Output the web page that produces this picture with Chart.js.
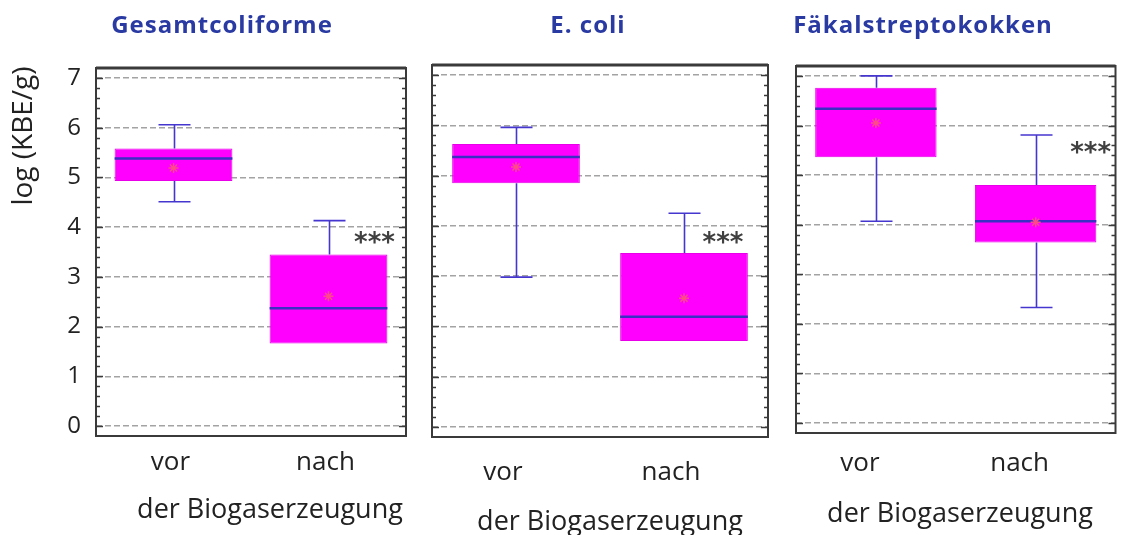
<!DOCTYPE html>
<html>
<head>
<meta charset="utf-8">
<script src="https://cdn.jsdelivr.net/npm/chart.js@4.4.1/dist/chart.umd.min.js"></script>
<style>
  html, body { margin: 0; padding: 0; background: #ffffff; width: 1122px; height: 535px; overflow: hidden; }
  .panel { position: absolute; top: 0; height: 535px; }
</style>
</head>
<body>
<div class="panel" style="left:0px;width:420px"><canvas id="c1"></canvas></div>
<div class="panel" style="left:416px;width:368px"><canvas id="c2"></canvas></div>
<div class="panel" style="left:784px;width:338px"><canvas id="c3"></canvas></div>
<script>
// ---- labels ----
const categories = ['vor', 'nach'];
const yTickValues = [0, 1, 2, 3, 4, 5, 6, 7];
const panelTitles = ['Gesamtcoliforme', 'E. coli', 'Fäkalstreptokokken'];
const xCaption = 'der Biogaserzeugung';
const yAxisTitle = 'log (KBE/g)';
const significance = '***';

// ---- log10 KBE/g, per group [vor, nach] ----
const gesamtMin    = [4.51, 1.66];
const gesamtQ1     = [4.93, 1.66];
const gesamtMedian = [5.38, 2.37];
const gesamtQ3     = [5.58, 3.45];
const gesamtMax    = [6.06, 4.13];
const gesamtMean   = [5.19, 2.61];

const ecoliMin    = [2.98, 1.71];
const ecoliQ1     = [4.85, 1.71];
const ecoliMedian = [5.37, 2.19];
const ecoliQ3     = [5.63, 3.46];
const ecoliMax    = [5.96, 4.25];
const ecoliMean   = [5.17, 2.56];

const faekalMin    = [4.07, 2.33];
const faekalQ1     = [5.36, 3.64];
const faekalMedian = [6.34, 4.07];
const faekalQ3     = [6.76, 4.80];
const faekalMax    = [7.00, 5.81];
const faekalMean   = [6.05, 4.05];

// height (log KBE/g) at which the significance mark sits next to "nach"
const sigLevel = [3.75, 3.74, 5.53];

const series = [
  { min: gesamtMin, q1: gesamtQ1, median: gesamtMedian, q3: gesamtQ3, max: gesamtMax, mean: gesamtMean },
  { min: ecoliMin,  q1: ecoliQ1,  median: ecoliMedian,  q3: ecoliQ3,  max: ecoliMax,  mean: ecoliMean },
  { min: faekalMin, q1: faekalQ1, median: faekalMedian, q3: faekalQ3, max: faekalMax, mean: faekalMean }
];

// ---- page layout of the three panels (page pixels) ----
const layout = [
  { id: 'c1', left: 0,   width: 420, areaLeft: 96,  areaRight: 406,  areaTop: 68, areaBottom: 436,
    showY: true,  titleX: 222, labelOffset: -3,  tickPad: 11, capX: 270, capY: 518, sigDx: 46 },
  { id: 'c2', left: 416, width: 368, areaLeft: 432, areaRight: 768,  areaTop: 65, areaBottom: 437,
    showY: false, titleX: 588, labelOffset: -13, tickPad: 20, capX: 610, capY: 530, sigDx: 39 },
  { id: 'c3', left: 784, width: 338, areaLeft: 796, areaRight: 1120, areaTop: 66, areaBottom: 433,
    showY: false, titleX: 923, labelOffset: -16, tickPad: 15, capX: 960, capY: 522, sigDx: 55 }
];

const FONT = "'Open Sans', 'DejaVu Sans', sans-serif";
const Y_MIN = -0.2, Y_MAX = 7.2;
const WHISKER = '#4536cf';
const MEDIAN = '#3a2fc2';
const BOX = '#ff00ff';

function makePanel(p, s, k) {
  const decor = {
    id: 'decor',
    beforeDatasetsDraw(chart) {
      const { ctx, scales: { x, y } } = chart;
      ctx.save();
      ctx.strokeStyle = WHISKER;
      ctx.lineWidth = 1.6;
      categories.forEach((c, i) => {
        const cx = Math.round(x.getPixelForValue(i)) + 0.5;
        const capHalf = 16;
        const pairs = [[s.q3[i], s.max[i]], [s.q1[i], s.min[i]]];
        pairs.forEach(([from, to]) => {
          if (Math.abs(from - to) < 1e-6) return;
          const y0 = y.getPixelForValue(from), y1 = y.getPixelForValue(to);
          ctx.beginPath();
          ctx.moveTo(cx, y0); ctx.lineTo(cx, y1);
          ctx.moveTo(cx - capHalf, y1); ctx.lineTo(cx + capHalf, y1);
          ctx.stroke();
        });
      });
      ctx.restore();
    },
    afterDatasetDraw(chart, args) {
      if (args.index !== 1) return;
      const { ctx, scales: { y } } = chart;
      const bars = chart.getDatasetMeta(1).data;
      ctx.save();
      ctx.strokeStyle = MEDIAN;
      ctx.lineWidth = 2.5;
      bars.forEach((bar, i) => {
        const ym = y.getPixelForValue(s.median[i]);
        ctx.beginPath();
        ctx.moveTo(bar.x - bar.width / 2, ym);
        ctx.lineTo(bar.x + bar.width / 2, ym);
        ctx.stroke();
      });
      ctx.restore();
    },
    afterDraw(chart) {
      const { ctx, chartArea: a, scales: { x, y } } = chart;
      ctx.save();
      // frame
      ctx.strokeStyle = '#3a3a3a';
      ctx.lineWidth = 2;
      ctx.strokeRect(a.left, a.top, a.right - a.left, a.bottom - a.top);
      ctx.lineWidth = 3;
      ctx.beginPath();
      ctx.moveTo(a.left, a.top); ctx.lineTo(a.right, a.top);
      ctx.stroke();
      // inward minor ticks every 0.2 on both sides
      ctx.lineWidth = 1.5;
      for (let v = -0.2; v <= 7.2001; v += 0.2) {
        const r = Math.round(v * 10) / 10;
        const yy = Math.round(y.getPixelForValue(r)) + 0.5;
        if (yy <= a.top + 2 || yy >= a.bottom - 2) continue;
        const len = Math.abs(r - Math.round(r)) < 1e-6 ? 7 : 4;
        ctx.beginPath();
        ctx.moveTo(a.left, yy); ctx.lineTo(a.left + len, yy);
        ctx.moveTo(a.right, yy); ctx.lineTo(a.right - len, yy);
        ctx.stroke();
      }
      const off = p.left;
      // panel title
      ctx.fillStyle = '#2a3aa3';
      ctx.font = `bold 24px ${FONT}`;
      ctx.letterSpacing = '1px';
      ctx.textAlign = 'center';
      ctx.textBaseline = 'alphabetic';
      ctx.fillText(panelTitles[k], p.titleX - off, 33);
      ctx.letterSpacing = '0px';
      // caption under the group labels
      ctx.fillStyle = '#222222';
      ctx.font = `27px ${FONT}`;
      ctx.fillText(xCaption, p.capX - off, p.capY);
      // significance mark beside the second group
      ctx.fillStyle = '#404040';
      ctx.font = `bold 26px 'DejaVu Sans', sans-serif`;
      ctx.textBaseline = 'middle';
      ctx.fillText(significance, x.getPixelForValue(1) + p.sigDx, y.getPixelForValue(sigLevel[k]) + 5);
      // y axis title
      if (p.showY) {
        ctx.fillStyle = '#222222';
        ctx.font = `28px ${FONT}`;
        ctx.translate(24, 136);
        ctx.rotate(-Math.PI / 2);
        ctx.textAlign = 'center';
        ctx.textBaseline = 'middle';
        ctx.fillText(yAxisTitle, 0, 0);
      }
      ctx.restore();
    }
  };

  const boxes = categories.map((c, i) => [s.q1[i], s.q3[i]]);

  return new Chart(document.getElementById(p.id), {
    data: {
      labels: categories,
      datasets: [
        {
          type: 'line',
          data: s.mean,
          showLine: false,
          pointStyle: 'star',
          pointRadius: 5,
          pointBorderWidth: 1.5,
          pointBorderColor: '#ff4a8a',
          pointBackgroundColor: '#ff4a8a',
          order: 1
        },
        {
          type: 'bar',
          data: boxes,
          backgroundColor: BOX,
          borderColor: '#e800e8',
          borderWidth: 1,
          borderSkipped: false,
          barPercentage: 0.76,
          categoryPercentage: 1.0,
          order: 2
        }
      ]
    },
    options: {
      responsive: true,
      maintainAspectRatio: false,
      animation: false,
      events: [],
      layout: { padding: { top: p.areaTop, right: p.left + p.width - p.areaRight, left: 0, bottom: 0 } },
      plugins: { legend: { display: false }, tooltip: { enabled: false }, title: { display: false } },
      scales: {
        x: {
          type: 'category',
          offset: true,
          grid: { display: false, drawTicks: false },
          border: { display: false },
          ticks: {
            color: '#222222',
            font: { family: FONT, size: 26 },
            padding: p.tickPad,
            labelOffset: p.labelOffset,
            maxRotation: 0,
            autoSkip: false
          },
          afterFit: (sc) => { sc.height = 535 - p.areaBottom; }
        },
        y: {
          type: 'linear',
          min: Y_MIN,
          max: Y_MAX,
          afterBuildTicks: (sc) => { sc.ticks = yTickValues.map(v => ({ value: v })); },
          grid: { color: '#a3a3a3', lineWidth: 1.5, drawTicks: false },
          border: { display: false, dash: [6, 3] },
          ticks: {
            display: p.showY,
            color: '#222222',
            font: { family: FONT, size: 24 },
            padding: 15
          },
          afterFit: (sc) => { sc.width = p.areaLeft - p.left; }
        }
      }
    },
    plugins: [decor]
  });
}

layout.forEach((p, k) => makePanel(p, series[k], k));
</script>
</body>
</html>
